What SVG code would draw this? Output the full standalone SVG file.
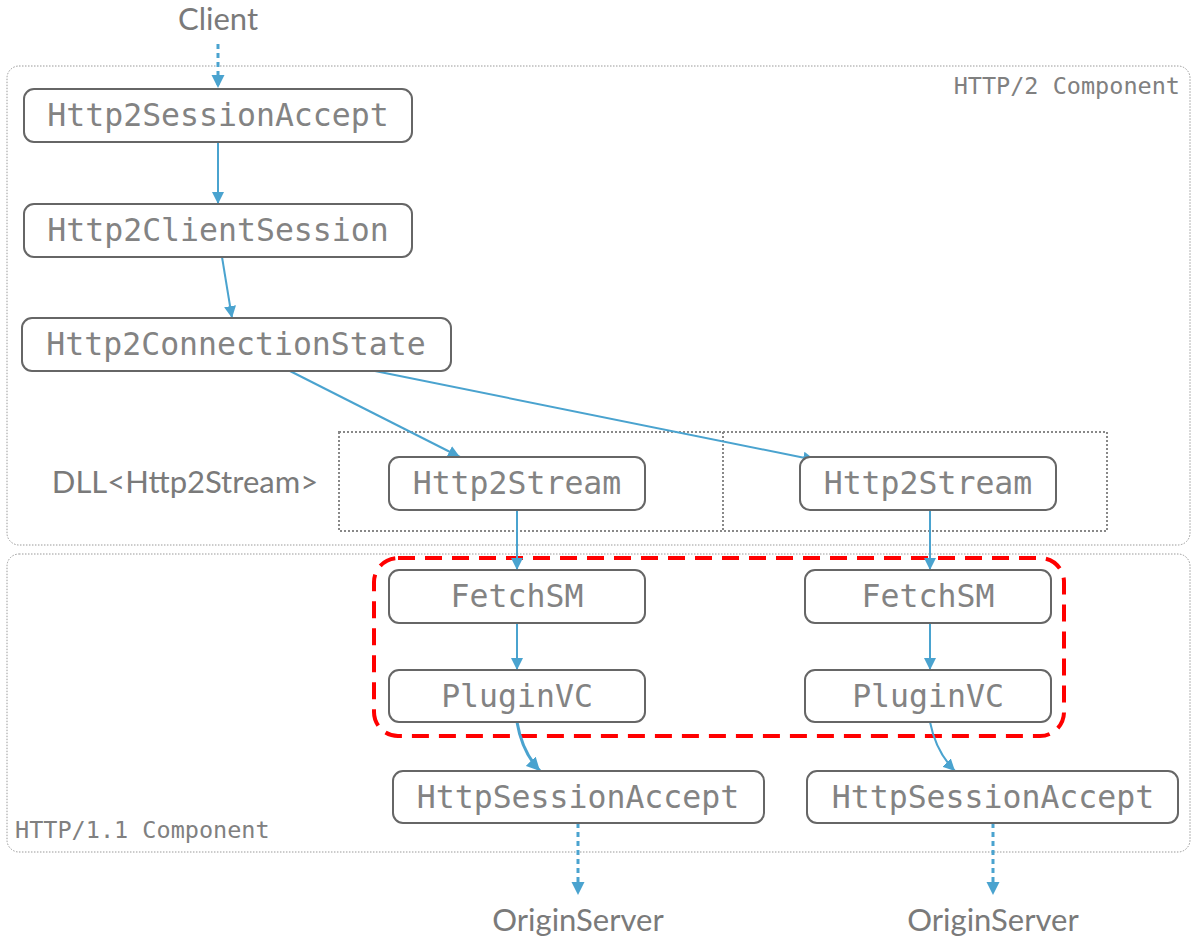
<svg xmlns="http://www.w3.org/2000/svg" width="1193" height="938" viewBox="0 0 1193 938">
<defs>
<style>
.comp{fill:none;stroke:#999;stroke-width:1;stroke-dasharray:1.5 1.5}
.dll{fill:none;stroke:#888;stroke-width:2;stroke-dasharray:2 2}
.node rect{fill:#fff;stroke:#666;stroke-width:2}
.node text{font-family:"DejaVu Sans Mono",monospace;font-size:31.5px;fill:#838383;text-anchor:middle}
.lbl{font-family:"DejaVu Sans Mono",monospace;font-size:23.5px;fill:#808080}
.sans{font-family:Lato,"Noto Sans",sans-serif;font-size:31px;fill:#7a7a7a;text-anchor:middle}
.edge{fill:none;stroke:#4aa3cf;stroke-width:2}
.dash{fill:none;stroke:#4aa3cf;stroke-width:3;stroke-dasharray:5 4}
.red{fill:none;stroke:#f00;stroke-width:4;stroke-dasharray:17 10}
</style>
<marker id="ah" viewBox="0 0 10 10" refX="10" refY="5" markerWidth="6" markerHeight="6" markerUnits="strokeWidth" orient="auto"><path d="M0,0L10,5L0,10z" fill="#4aa3cf"/></marker>
<marker id="ah2" viewBox="0 0 10 10" refX="10" refY="5" markerWidth="4.5" markerHeight="4.5" markerUnits="strokeWidth" orient="auto"><path d="M0,0L10,5L0,10z" fill="#4aa3cf"/></marker>
</defs>
<rect width="1193" height="938" fill="#fff"/>
<g id="components">
<rect class="comp" x="7" y="66" width="1183" height="479" rx="12"/>
<rect class="comp" x="7" y="554" width="1183" height="298" rx="12"/>
<text class="lbl" x="1180" y="94" text-anchor="end">HTTP/2 Component</text>
<text class="lbl" x="15" y="838">HTTP/1.1 Component</text>
</g>
<g id="dll">
<rect class="dll" x="339" y="432" width="768" height="99"/>
<line class="dll" x1="723" y1="432" x2="723" y2="531"/>
<text class="sans" x="185" y="493">DLL&lt;Http2Stream&gt;</text>
</g>
<g id="client"><text class="sans" x="218" y="30">Client</text></g>
<g id="origin1"><text class="sans" x="578" y="931">OriginServer</text></g>
<g id="origin2"><text class="sans" x="993" y="931">OriginServer</text></g>
<g id="redbox"><rect class="red" x="374" y="558" width="690" height="178" rx="24"/></g>
<g id="connectors">
<path class="dash" d="M218,44V88" marker-end="url(#ah2)"/>
<path class="edge" d="M218,142V204" marker-end="url(#ah)"/>
<path class="edge" d="M222,257L232,318" marker-end="url(#ah)"/>
<path class="edge" d="M290,371L460,457" marker-end="url(#ah)"/>
<path class="edge" d="M375,371L815,460" marker-end="url(#ah)"/>
<path class="edge" d="M517,510V570" marker-end="url(#ah)"/>
<path class="edge" d="M930,510V570" marker-end="url(#ah)"/>
<path class="edge" d="M517,623V670" marker-end="url(#ah)"/>
<path class="edge" d="M930,623V670" marker-end="url(#ah)"/>
<path class="edge" style="stroke-width:3" d="M517,722Q522,752 540,771" marker-end="url(#ah2)"/>
<path class="edge" style="stroke-width:2" d="M930,722Q936,752 955,771" marker-end="url(#ah)"/>
<path class="dash" d="M578,823V895" marker-end="url(#ah2)"/>
<path class="dash" d="M993,823V895" marker-end="url(#ah2)"/>
</g>
<g id="n1" class="node"><rect x="24" y="89" width="388" height="53" rx="10"/><text x="218" y="126">Http2SessionAccept</text></g>
<g id="n2" class="node"><rect x="24" y="204" width="388" height="53" rx="10"/><text x="218" y="241">Http2ClientSession</text></g>
<g id="n3" class="node"><rect x="22" y="318" width="429" height="53" rx="10"/><text x="236" y="355">Http2ConnectionState</text></g>
<g id="n4" class="node"><rect x="389" y="457" width="256" height="53" rx="10"/><text x="517" y="494">Http2Stream</text></g>
<g id="n5" class="node"><rect x="800" y="457" width="256" height="53" rx="10"/><text x="928" y="494">Http2Stream</text></g>
<g id="n6" class="node"><rect x="389" y="570" width="256" height="53" rx="10"/><text x="517" y="607">FetchSM</text></g>
<g id="n7" class="node"><rect x="805" y="570" width="246" height="53" rx="10"/><text x="928" y="607">FetchSM</text></g>
<g id="n8" class="node"><rect x="389" y="670" width="256" height="52" rx="10"/><text x="517" y="707">PluginVC</text></g>
<g id="n9" class="node"><rect x="805" y="670" width="246" height="52" rx="10"/><text x="928" y="707">PluginVC</text></g>
<g id="n10" class="node"><rect x="393" y="771" width="371" height="52" rx="10"/><text x="578" y="808">HttpSessionAccept</text></g>
<g id="n11" class="node"><rect x="807" y="771" width="371" height="52" rx="10"/><text x="993" y="808">HttpSessionAccept</text></g>
</svg>
